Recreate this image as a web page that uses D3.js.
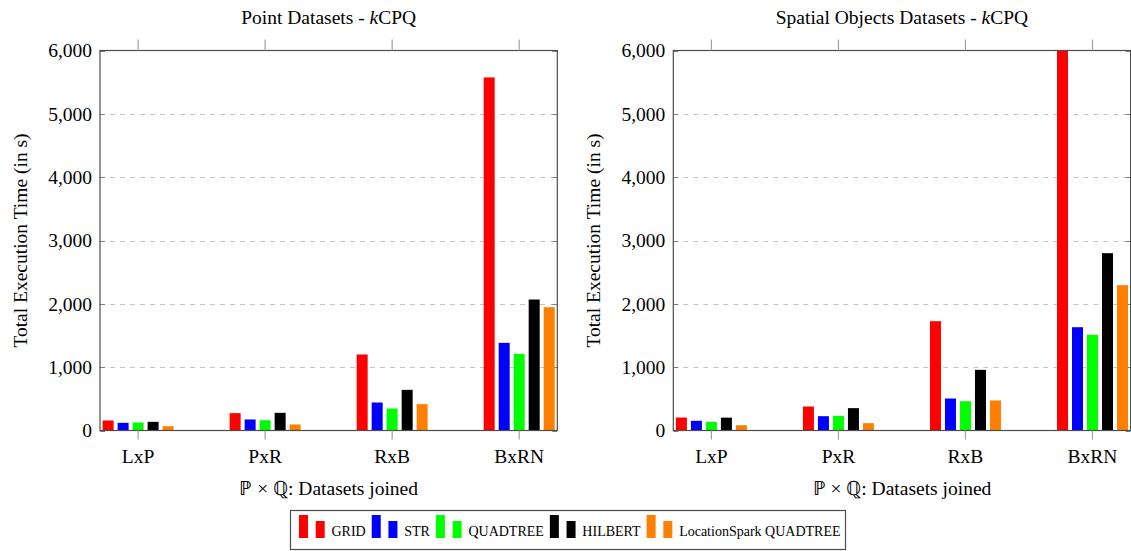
<!DOCTYPE html>
<html>
<head>
<meta charset="utf-8">
<script src="https://cdn.jsdelivr.net/npm/d3@7"></script>
<style>
  html, body { margin: 0; padding: 0; background: #fff; }
  svg { display: block; }
  text { font-family: "Liberation Serif", "Times New Roman", serif; fill: #000; }
</style>
</head>
<body>
<svg id="chart" width="1131" height="551"></svg>
<script>
// Join pairs (x axis) and algorithm series
const categories = ["LxP", "PxR", "RxB", "BxRN"];
const seriesNames = ["GRID", "STR", "QUADTREE", "HILBERT", "LocationSpark QUADTREE"];
const seriesColors = ["#ff0000", "#0000ff", "#00ff00", "#000000", "#ff8000"];
const yTicks = [0, 1000, 2000, 3000, 4000, 5000, 6000];

// Total execution time (s), one array per series, ordered as categories
const pointGRID      = [158, 274, 1200, 5575];
const pointSTR       = [121, 174, 442, 1384];
const pointQUADTREE  = [126, 163, 347, 1210];
const pointHILBERT   = [137, 279, 642, 2068];
const pointLSQ       = [68, 95, 416, 1947];

const spatialGRID     = [205, 379, 1726, 6000];
const spatialSTR      = [153, 226, 505, 1631];
const spatialQUADTREE = [137, 232, 463, 1511];
const spatialHILBERT  = [203, 353, 958, 2800];
const spatialLSQ      = [84, 116, 474, 2295];

const panels = [
  { title: "Point Datasets - ", left: 100, right: 557.3,
    series: [pointGRID, pointSTR, pointQUADTREE, pointHILBERT, pointLSQ] },
  { title: "Spatial Objects Datasets - ", left: 673.3, right: 1130.6,
    series: [spatialGRID, spatialSTR, spatialQUADTREE, spatialHILBERT, spatialLSQ] }
];

const svg = d3.select("#chart");
svg.append("rect").attr("width", 1131).attr("height", 551).attr("fill", "#fff");

const plotTop = 50.5, plotBottom = 430.5;
const fontSize = "19.5px";
const axisColor = "#4d4d4d";
const tickColor = "#a0a0a0";

panels.forEach((p, pi) => {
  const w = p.right - p.left;
  const g = svg.append("g").attr("transform", `translate(${p.left},0)`);

  const x = d3.scalePoint().domain(categories).range([0, w]).padding(0.3);
  const xs = d3.scaleBand().domain(seriesNames).range([-35.5, 35.5]).paddingInner(4 / 15).paddingOuter(0);
  const y = d3.scaleLinear().domain([0, 6000]).range([plotBottom, plotTop]);

  // dashed horizontal grid
  g.append("g").selectAll("line").data(yTicks.filter(t => t > 0 && t < 6000)).join("line")
    .attr("x1", 0).attr("x2", w)
    .attr("y1", d => Math.round(y(d)) + 0.5).attr("y2", d => Math.round(y(d)) + 0.5)
    .attr("stroke", "#c4c4c4").attr("stroke-width", 1).attr("stroke-dasharray", "5,5");

  // inward y ticks on both sides
  const yt = g.append("g");
  yt.selectAll("line.l").data(yTicks).join("line").attr("class", "l")
    .attr("x1", 0).attr("x2", 5)
    .attr("y1", d => Math.round(y(d)) + 0.5).attr("y2", d => Math.round(y(d)) + 0.5)
    .attr("stroke", "#808080");
  yt.selectAll("line.r").data(yTicks).join("line").attr("class", "r")
    .attr("x1", w - 5).attr("x2", w)
    .attr("y1", d => Math.round(y(d)) + 0.5).attr("y2", d => Math.round(y(d)) + 0.5)
    .attr("stroke", "#808080");

  // bars
  const clipId = "clip" + pi;
  g.append("clipPath").attr("id", clipId).append("rect")
    .attr("x", 0).attr("y", plotTop).attr("width", w).attr("height", plotBottom - plotTop);
  const bars = g.append("g").attr("clip-path", `url(#${clipId})`);
  p.series.forEach((vals, si) => {
    bars.selectAll(null).data(vals).join("rect")
      .attr("x", (d, i) => x(categories[i]) + xs(seriesNames[si]))
      .attr("width", xs.bandwidth())
      .attr("y", d => y(d))
      .attr("height", d => y(0) - y(d))
      .attr("fill", seriesColors[si]);
  });

  // frame
  g.append("rect").attr("x", 0).attr("y", plotTop).attr("width", w).attr("height", plotBottom - plotTop)
    .attr("fill", "none").attr("stroke", axisColor).attr("stroke-width", 1.2);

  // x ticks outside, top and bottom
  g.append("g").selectAll("line").data(categories).join("line")
    .attr("x1", d => x(d)).attr("x2", d => x(d))
    .attr("y1", plotTop - 11).attr("y2", plotTop)
    .attr("stroke", tickColor).attr("stroke-width", 1.2);
  g.append("g").selectAll("line").data(categories).join("line")
    .attr("x1", d => x(d)).attr("x2", d => x(d))
    .attr("y1", plotBottom).attr("y2", plotBottom + 9)
    .attr("stroke", tickColor).attr("stroke-width", 1.2);

  // x tick labels
  g.append("g").selectAll("text").data(categories).join("text")
    .attr("x", d => x(d)).attr("y", 463)
    .attr("text-anchor", "middle").style("font-size", fontSize)
    .text(d => d);

  // y tick labels
  g.append("g").selectAll("text").data(yTicks).join("text")
    .attr("x", -8).attr("y", d => y(d))
    .attr("dy", "0.35em")
    .attr("text-anchor", "end").style("font-size", fontSize)
    .text(d => d3.format(",")(d));

  // title
  const t = g.append("text").attr("x", w / 2).attr("y", 24)
    .attr("text-anchor", "middle").style("font-size", fontSize);
  t.append("tspan").text(p.title);
  t.append("tspan").attr("font-style", "italic").text("k");
  t.append("tspan").text("CPQ");

  // axis labels
  g.append("text").attr("x", w / 2).attr("y", 495)
    .attr("text-anchor", "middle").style("font-size", fontSize)
    .text("\u2119 \u00d7 \u211a: Datasets joined");
  g.append("text")
    .attr("transform", `translate(${-73},${(plotTop + plotBottom) / 2}) rotate(-90)`)
    .attr("text-anchor", "middle").style("font-size", fontSize)
    .text("Total Execution Time (in s)");
});

// legend
const lg = svg.append("g");
lg.append("rect").attr("x", 290.5).attr("y", 510.5).attr("width", 555).attr("height", 39)
  .attr("fill", "#fff").attr("stroke", axisColor).attr("stroke-width", 1.2);
let lx = 299;
seriesNames.forEach((name, i) => {
  lg.append("rect").attr("x", lx).attr("y", 515).attr("width", 9).attr("height", 23).attr("fill", seriesColors[i]);
  lg.append("rect").attr("x", lx + 16.7).attr("y", 521).attr("width", 9).attr("height", 17).attr("fill", seriesColors[i]);
  const tx = lg.append("text").attr("x", lx + 32.5).attr("y", 536).style("font-size", "14px").text(name);
  lx = lx + 32.5 + tx.node().getComputedTextLength() + 6;
});
</script>
</body>
</html>
